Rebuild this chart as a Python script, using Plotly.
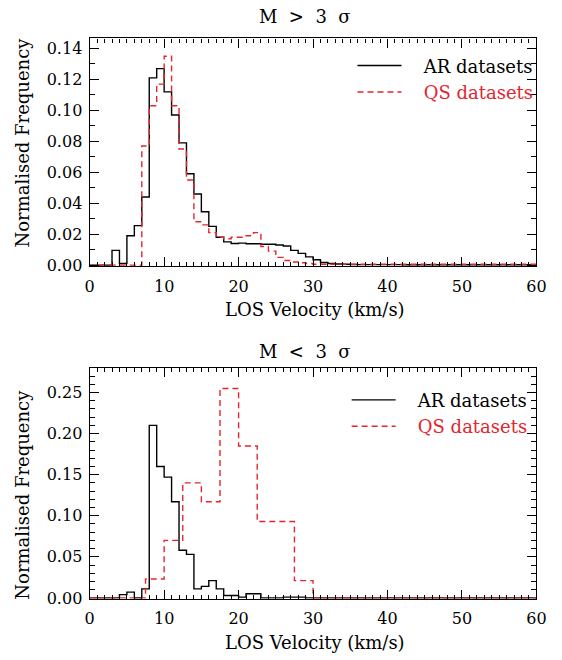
import plotly.graph_objects as go

# ---------------- data ----------------
# Top panel (M > 3 sigma): 1 km/s bins from 0 to 60
top_edges = list(range(0, 61))
top_ar = [0, 0, 0, 0.0095, 0.001, 0.019, 0.0255, 0.044, 0.121, 0.127,
          0.112, 0.097, 0.079, 0.059, 0.046, 0.0345, 0.025, 0.018, 0.015, 0.014,
          0.0142, 0.0138, 0.0138, 0.0135, 0.0135, 0.013, 0.0123, 0.0095, 0.0076, 0.0053,
          0.0034, 0.0017, 0.001, 0.0007, 0.0005, 0.0004, 0.0003, 0.0003, 0.0003, 0.0003,
          0.0003, 0.0003, 0.0002, 0.0002, 0.0002, 0.0002, 0.0002, 0.0002, 0.0002, 0.0002,
          0.0002, 0.0002, 0.0002, 0.0002, 0.0002, 0.0002, 0.0002, 0.0002, 0.0002, 0.0002]
top_qs = [0, 0, 0, 0, 0, 0, 0, 0.077, 0.103, 0.117,
          0.135, 0.103, 0.075, 0.055, 0.028, 0.026, 0.021, 0.018, 0.017, 0.018,
          0.018, 0.019, 0.021, 0.012, 0.009, 0.005, 0.003, 0.002, 0.0015, 0.001,
          0.0005, 0.0005, 0.0005, 0.0005, 0.0005, 0.0005, 0.0005, 0.0005, 0.0005, 0.0005,
          0.0005, 0.0005, 0.0005, 0.0005, 0.0005, 0.0005, 0.0005, 0.0005, 0.0005, 0.0005,
          0.0005, 0.0005, 0.0005, 0.0005, 0.0005, 0.0005, 0.0005, 0.0005, 0.0005, 0.0005]

# Bottom panel (M < 3 sigma)
bot_ar_edges = list(range(0, 61))
bot_ar = [0, 0, 0, 0, 0.004, 0.007, 0, 0.011, 0.21, 0.16,
          0.147, 0.117, 0.058, 0.053, 0.011, 0.014, 0.021, 0.011, 0.003, 0.003,
          0.001, 0.005, 0.005, 0, 0, 0, 0.001, 0.001, 0.001, 0,
          0, 0, 0, 0, 0, 0, 0, 0, 0, 0,
          0, 0, 0, 0, 0, 0, 0, 0, 0, 0,
          0, 0, 0, 0, 0, 0, 0, 0, 0, 0]
bot_qs_edges = [i * 2.5 for i in range(0, 25)]
bot_qs = [0, 0, 0, 0.023, 0.07, 0.14, 0.117, 0.255, 0.185, 0.093,
          0.093, 0.021, 0, 0, 0, 0, 0, 0, 0, 0,
          0, 0, 0, 0]

top_title = "M  >  3  σ"
bot_title = "M  <  3  σ"
x_title = "LOS Velocity (km/s)"
y_title = "Normalised Frequency"
labels = ["AR datasets", "QS datasets"]

FONT = "DejaVu Serif"
RED = "#e3262f"
PAD = "\u00a0\u00a0\u00a0"


def step(edges, vals):
    return list(edges), list(vals) + [vals[-1]]


names = [PAD + labels[0], PAD + "<span style='color:%s'>%s</span>" % (RED, labels[1])]

fig = go.Figure()
x, y = step(top_edges, top_ar)
fig.add_trace(go.Scatter(x=x, y=y, mode="lines", line=dict(shape="hv", color="black", width=1.4),
                         name=names[0], xaxis="x", yaxis="y", legend="legend", legendgroup="a"))
x, y = step(top_edges, top_qs)
fig.add_trace(go.Scatter(x=x, y=y, mode="lines", line=dict(shape="hv", color=RED, width=1.4, dash="6px,4px"),
                         name=names[1], xaxis="x", yaxis="y", legend="legend", legendgroup="b"))
x, y = step(bot_ar_edges, bot_ar)
fig.add_trace(go.Scatter(x=x, y=y, mode="lines", line=dict(shape="hv", color="black", width=1.4),
                         name=names[0], xaxis="x2", yaxis="y2", legend="legend2", legendgroup="c"))
x, y = step(bot_qs_edges, bot_qs)
fig.add_trace(go.Scatter(x=x, y=y, mode="lines", line=dict(shape="hv", color=RED, width=1.4, dash="6px,4px"),
                         name=names[1], xaxis="x2", yaxis="y2", legend="legend2", legendgroup="d"))

W, H = 562, 660
xd = [87 / W, 546 / W]
top_dom = [1 - 270 / H, 1 - 39 / H]
bot_dom = [1 - 607 / H, 1 - 373 / H]

axcommon = dict(showline=True, linecolor="black", linewidth=1.3, mirror="allticks",
                ticks="inside", ticklen=9, tickwidth=1.1, tickcolor="black",
                showgrid=False, zeroline=False,
                tickfont=dict(family=FONT, size=16, color="black"))
xcommon = dict(axcommon, range=[0, 60], dtick=10, tick0=0, ticklabelstandoff=5,
               minor=dict(ticks="inside", dtick=1, ticklen=4, tickcolor="black", tickwidth=1, showgrid=False))

legcommon = dict(xanchor="left", yanchor="top", bgcolor="rgba(0,0,0,0)",
                 font=dict(family=FONT, size=18, color="black"), tracegroupgap=0, itemwidth=44)

fig.update_layout(
    width=W, height=H, margin=dict(l=0, r=0, t=0, b=0),
    paper_bgcolor="white", plot_bgcolor="white",
    xaxis=dict(xcommon, domain=xd, anchor="y"),
    yaxis=dict(axcommon, domain=top_dom, anchor="x", range=[-0.0008, 0.1465], dtick=0.02, tickformat=".2f",
               ticklabelstandoff=3,
               minor=dict(ticks="inside", dtick=0.01, ticklen=5, tickcolor="black", tickwidth=1, showgrid=False)),
    xaxis2=dict(xcommon, domain=xd, anchor="y2"),
    yaxis2=dict(axcommon, domain=bot_dom, anchor="x2", range=[-0.001, 0.28], dtick=0.05, tickformat=".2f",
                ticklabelstandoff=3,
                minor=dict(ticks="inside", dtick=0.01, ticklen=5, tickcolor="black", tickwidth=1, showgrid=False)),
    legend=dict(legcommon, x=357 / W, y=1 - 48 / H),
    legend2=dict(legcommon, x=351 / W, y=1 - 387 / H),
    showlegend=True,
)

ann = [
    dict(text=top_title, x=308 / W, y=1 - 17 / H, size=18),
    dict(text=bot_title, x=308 / W, y=1 - 356 / H, size=18),
    dict(text=x_title, x=318 / W, y=1 - 314 / H, size=18),
    dict(text=x_title, x=318 / W, y=1 - 651 / H, size=18),
    dict(text=y_title, x=18 / W, y=1 - 145 / H, textangle=-90, size=18),
    dict(text=y_title, x=18 / W, y=1 - 502 / H, textangle=-90, size=18),
]
for a in ann:
    s = a.pop("size")
    fig.add_annotation(xref="paper", yref="paper", showarrow=False, xanchor="center", yanchor="middle",
                       font=dict(family=FONT, size=s, color="black"), **a)

fig.write_html("out.html")
